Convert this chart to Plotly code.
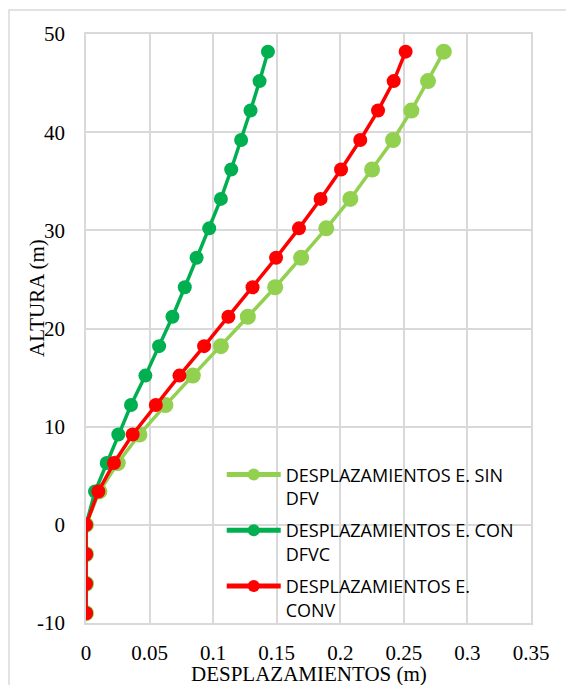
import plotly.graph_objects as go

altura = [-9, -6, -3, 0, 3.4, 6.3, 9.2, 12.2, 15.2, 18.2, 21.2, 24.2, 27.2, 30.2, 33.2, 36.2, 39.2, 42.2, 45.2, 48.2]

desp_sin_dfv = [0, 0, 0, 0, 0.0105, 0.0250, 0.0420, 0.0625, 0.0840, 0.1061, 0.1273, 0.1488, 0.1692,
                0.1890, 0.2079, 0.2250, 0.2415, 0.2559, 0.2690, 0.2814]
desp_con_dfvc = [0, 0, 0, 0, 0.0071, 0.0163, 0.0254, 0.0354, 0.0467, 0.0575, 0.0680, 0.0777, 0.0870,
                 0.0969, 0.1061, 0.1142, 0.1220, 0.1294, 0.1365, 0.1431]
desp_conv = [0, 0, 0, 0, 0.0097, 0.0220, 0.0367, 0.0549, 0.0735, 0.0929, 0.1120, 0.1310, 0.1495,
             0.1675, 0.1845, 0.2006, 0.2157, 0.2297, 0.2420, 0.2514]

names = ["DESPLAZAMIENTOS E. SIN<br>DFV", "DESPLAZAMIENTOS E. CON<br>DFVC", "DESPLAZAMIENTOS E.<br>CONV"]
colors = ["#92D050", "#00B050", "#FF0000"]
sizes = [16, 14, 14]

x_ticks = [0, 0.05, 0.1, 0.15, 0.2, 0.25, 0.3, 0.35]
x_ticktext = ["0", "0.05", "0.1", "0.15", "0.2", "0.25", "0.3", "0.35"]
y_ticks = [-10, 0, 10, 20, 30, 40, 50]
y_ticktext = ["-10", "0", "10", "20", "30", "40", "50"]

fig = go.Figure()
for i, (xs, nm, c, s) in enumerate(zip([desp_sin_dfv, desp_con_dfvc, desp_conv], names, colors, sizes)):
    fig.add_trace(go.Scatter(
        x=xs, y=altura, name=nm, mode="lines+markers", legendgroup=f"g{i}",
        line=dict(color=c, width=3.5),
        marker=dict(color=c, size=s),
    ))

grid = "#d9d9d9"
serif = "Liberation Serif"

fig.update_layout(
    width=566, height=685,
    margin=dict(l=86, r=35, t=34, b=62),
    paper_bgcolor="white", plot_bgcolor="white",
    showlegend=True,
    legend=dict(
        x=0.305, y=0.283, xanchor="left", yanchor="top",
        bgcolor="rgba(0,0,0,0)",
        font=dict(family="Open Sans", size=18, color="black"),
        valign="top", tracegroupgap=6, itemsizing="constant", itemwidth=54,
    ),
    xaxis=dict(
        range=[0, 0.35], tickvals=x_ticks, ticktext=x_ticktext,
        showgrid=True, gridcolor=grid, gridwidth=1.5,
        zeroline=False, showline=True, linecolor=grid, linewidth=1.5, mirror=True,
        tickfont=dict(family=serif, size=21, color="black"),
        ticks="", ticklabelstandoff=10,
    ),
    yaxis=dict(
        range=[-10, 50], tickvals=y_ticks, ticktext=y_ticktext,
        showgrid=True, gridcolor=grid, gridwidth=1.5,
        zeroline=False, showline=True, linecolor=grid, linewidth=1.5, mirror=True,
        tickfont=dict(family=serif, size=21, color="black"),
        ticks="", ticklabelstandoff=15,
    ),
    annotations=[
        dict(text="DESPLAZAMIENTOS (m)", xref="paper", yref="paper", x=0.5, y=-0.086,
             xanchor="center", yanchor="middle", showarrow=False,
             font=dict(family=serif, size=21, color="black")),
        dict(text="ALTURA (m)", xref="paper", yref="paper", x=-0.11, y=0.552,
             xanchor="center", yanchor="middle", showarrow=False, textangle=-90,
             font=dict(family=serif, size=21, color="black")),
    ],
    shapes=[
        dict(type="rect", xref="paper", yref="paper", x0=-0.173, y0=-0.3, x1=1.2, y1=1.0408,
             line=dict(color=grid, width=1.5), fillcolor="rgba(0,0,0,0)", layer="below"),
    ],
)

fig.write_html("out.html", config={"displayModeBar": False},
               post_script="document.body.style.margin='0';")
